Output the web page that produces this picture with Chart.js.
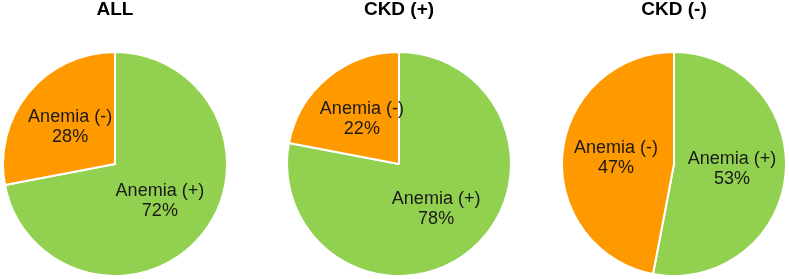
<!DOCTYPE html>
<html lang="en">
<head>
    <meta charset="UTF-8">
    <title>Anemia by CKD status</title>
    <style>
        body {
            margin: 0;
            background: #ffffff;
            width: 789px;
            height: 279px;
            position: relative;
            overflow: hidden;
        }

        .pie {
            position: absolute;
            top: 0;
            width: 226px;
            height: 279px;
        }
    </style>
    <script src="https://cdn.jsdelivr.net/npm/chart.js"></script>
</head>
<body>

    <div class="pie" style="left: 2px;"><canvas id="pieAll"></canvas></div>
    <div class="pie" style="left: 286px;"><canvas id="pieCkdPos"></canvas></div>
    <div class="pie" style="left: 561px;"><canvas id="pieCkdNeg"></canvas></div>

    <script>
        // data
        var categories = ['Anemia (+)', 'Anemia (-)'];
        var groupTitles = ['ALL', 'CKD (+)', 'CKD (-)'];
        var allValues = [72, 28];
        var ckdPosValues = [78, 22];
        var ckdNegValues = [53, 47];

        var sliceColors = ['#92D050', '#FF9900'];

        // draws "category\nNN%" inside each slice (no datalabels plugin offline)
        var sliceLabels = {
            id: 'sliceLabels',
            afterDatasetsDraw: function (chart) {
                var ctx = chart.ctx;
                var meta = chart.getDatasetMeta(0);
                var values = chart.data.datasets[0].data;
                var total = values.reduce(function (a, b) { return a + b; }, 0);
                ctx.save();
                ctx.font = '18px "Liberation Sans", Arial, sans-serif';
                ctx.fillStyle = '#1a1a1a';
                ctx.textAlign = 'center';
                ctx.textBaseline = 'middle';
                meta.data.forEach(function (arc, i) {
                    var p = arc.getProps(['x', 'y', 'startAngle', 'endAngle', 'outerRadius'], true);
                    var mid = (p.startAngle + p.endAngle) / 2;
                    var r = p.outerRadius * 0.52;
                    var cx = p.x + Math.cos(mid) * r;
                    var cy = p.y + Math.sin(mid) * r;
                    var pct = Math.round(values[i] / total * 100) + '%';
                    ctx.fillText(chart.data.labels[i], cx, cy - 10);
                    ctx.fillText(pct, cx, cy + 10);
                });
                ctx.restore();
            }
        };

        function makePie(canvasId, title, values) {
            var ctx = document.getElementById(canvasId).getContext('2d');
            return new Chart(ctx, {
                type: 'pie',
                data: {
                    labels: categories,
                    datasets: [{
                        data: values,
                        backgroundColor: sliceColors,
                        borderColor: '#ffffff',
                        borderWidth: 2
                    }]
                },
                options: {
                    responsive: true,
                    maintainAspectRatio: false,
                    animation: false,
                    layout: {
                        padding: { bottom: 2 }
                    },
                    plugins: {
                        legend: { display: false },
                        tooltip: { enabled: false },
                        title: {
                            display: true,
                            text: title,
                            color: '#000000',
                            font: { family: '"Liberation Sans", Arial, sans-serif', size: 19, weight: 'bold', lineHeight: 1 },
                            padding: { top: 0, bottom: 32 }
                        }
                    }
                },
                plugins: [sliceLabels]
            });
        }

        makePie('pieAll', groupTitles[0], allValues);
        makePie('pieCkdPos', groupTitles[1], ckdPosValues);
        makePie('pieCkdNeg', groupTitles[2], ckdNegValues);
    </script>

</body>
</html>
